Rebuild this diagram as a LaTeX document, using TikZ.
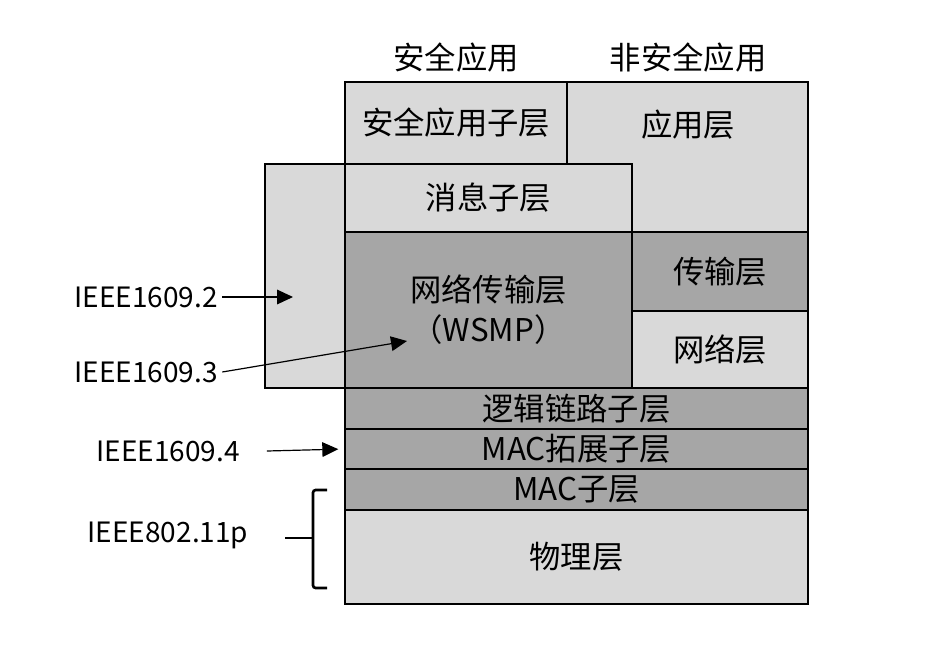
\documentclass[tikz,border=0pt]{standalone}
\usepackage{fontspec}
\setmainfont{Noto Sans CJK SC}
\usetikzlibrary{arrows.meta,positioning}
\definecolor{layerlight}{HTML}{D9D9D9}
\definecolor{layerdark}{HTML}{A6A6A6}
\newcommand{\lyrfont}{\fontsize{23.5}{30}\selectfont}
\newcommand{\stdfont}{\fontsize{21}{25}\selectfont}

\begin{document}
\begin{tikzpicture}[x=0.75pt,y=-0.75pt,
  lyr/.style={rectangle,draw=black,line width=0.9pt,outer sep=0pt,inner sep=0pt,
    anchor=north west,align=center,font=\lyrfont},
  lite/.style={lyr,fill=layerlight},
  dark/.style={lyr,fill=layerdark},
  lbl/.style={font=\lyrfont,text=black},
  stdlbl/.style={font=\stdfont,text=black},
  arr/.style={-{Triangle[length=12pt,width=11pt]},line width=0.9pt},
]
  \useasboundingbox (0,0) rectangle (936,654);
  % upper part
  \node[lbl] (safeapp) at (456,58) {安全应用};
  \node[lbl] (othapp) at (688,58) {非安全应用};
  \fill[layerlight,draw=black,line width=0.9pt] (567,82) -- (808,82) -- (808,232) -- (632,232)
    -- (632,164) -- (567,164) -- cycle;
  \node[lbl] (app) at (688,125) {应用层};
  \node[lite,minimum width=166.5pt,minimum height=61.5pt] (sec) at (345,82) {安全应用子层};
  \node[lite,minimum width=60pt,minimum height=168pt] (ieee) at (265,164) {};
  \node[lite,minimum width=215.25pt,minimum height=51pt] (msg) at (345,164) {消息子层};
  \node[dark,below=0pt of msg,minimum width=215.25pt,minimum height=117pt] (wsmp) {网络传输层\\（WSMP）};
  \node[dark,minimum width=132pt,minimum height=59.25pt] (trans) at (wsmp.north east) {传输层};
  \node[lite,below=0pt of trans,minimum width=132pt,minimum height=57.75pt] (net) {网络层};
  % lower layers
  \node[dark,minimum width=347.25pt,minimum height=30.75pt] (llc) at (345,388) {逻辑链路子层};
  \node[dark,below=0pt of llc,minimum width=347.25pt,minimum height=30pt] (macx) {MAC拓展子层};
  \node[dark,below=0pt of macx,minimum width=347.25pt,minimum height=30.75pt] (mac) {MAC子层};
  \node[lite,below=0pt of mac,minimum width=347.25pt,minimum height=70.5pt] (phy) {物理层};
  % standards
  \node[stdlbl] (std2) at (146,297) {IEEE1609.2};
  \node[stdlbl] (std3) at (146,372) {IEEE1609.3};
  \node[stdlbl] (std4) at (168,451) {IEEE1609.4};
  \node[stdlbl] (std11) at (168,535) {IEEE802.11p};
  \coordinate (tip2) at (293,297);
  \coordinate (tip3) at (407,341);
  \draw[arr] (std2.east) -- (tip2);
  \draw[arr] (std3.east) -- (tip3);
  \draw[arr,shorten >=5pt] ([xshift=17pt]std4.east) -- (macx.west);
  % brace
  \draw[line width=2pt,rounded corners=2pt] (327,490) -- (313,490) -- (313,588) -- (327,588);
  \draw[line width=2pt] (285,538) -- (313,538);
\end{tikzpicture}
\end{document}
